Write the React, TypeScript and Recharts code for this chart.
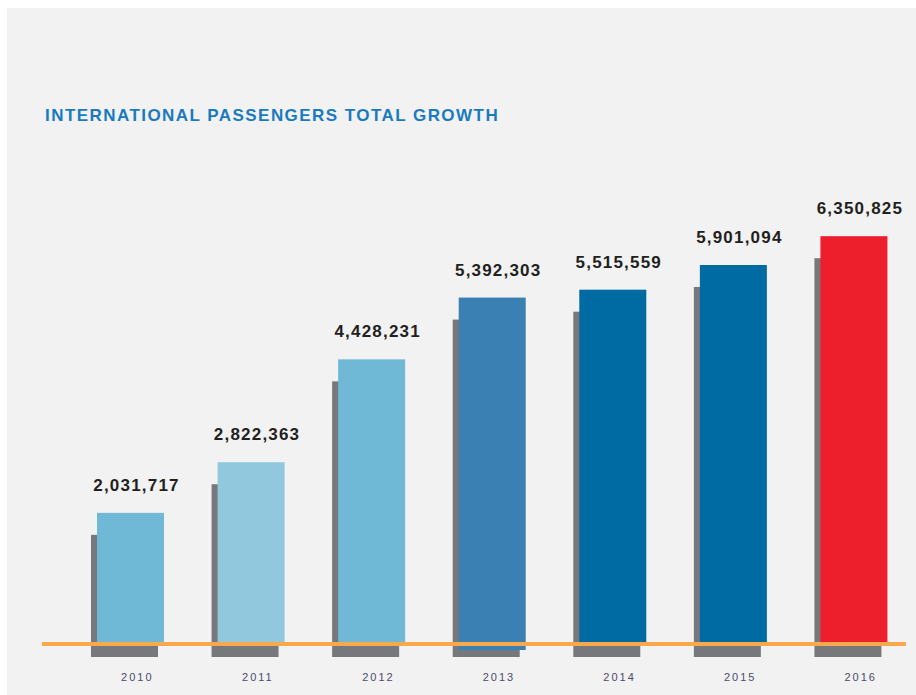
import React from "react"
import { BarChart, Bar, XAxis, YAxis, LabelList, Cell } from "recharts"

// data
const years = ["2010", "2011", "2012", "2013", "2014", "2015", "2016"]
const totals = [2031717, 2822363, 4428231, 5392303, 5515559, 5901094, 6350825]

const barColors = ["#6fb9d6", "#92c8de", "#6fb9d6", "#3a80b2", "#006aa3", "#006aa3", "#ee1f2d"]
const barDrop = [0, 0, 0, 7, 0, 0, 0]

const W = 916
const H = 695
const BASE = 643

const data = years.map((year, i) => ({ year, total: totals[i], idx: i }))

const fmt = (v: number) => v.toLocaleString("en-US")

function ShadowBar(props: any) {
  const { x, y, width, height, index } = props
  const drop = barDrop[index] || 0
  return (
    <g>
      <rect x={x - 6} y={y + 22} width={width} height={height - 22 + 14} fill="#77787b" />
      <rect x={x} y={y} width={width} height={height + drop} fill={barColors[index]} />
    </g>
  )
}

function ValueLabel(props: any) {
  const { x, y, width, value } = props
  return (
    <text
      x={x + width / 2 + 6}
      y={y - 22}
      textAnchor="middle"
      fontFamily="'Liberation Sans', Arial, sans-serif"
      fontWeight="bold"
      fontSize={17}
      letterSpacing={1.2}
      fill="#231f20"
    >
      {fmt(value)}
    </text>
  )
}

function YearTick(props: any) {
  const { x, payload } = props
  return (
    <text
      x={x + 7}
      y={681}
      textAnchor="middle"
      fontFamily="'Liberation Sans', Arial, sans-serif"
      fontSize={11}
      letterSpacing={2}
      fill="#4a4a6a"
    >
      {payload.value}
    </text>
  )
}

export default function App() {
  return (
    <div style={{ position: "absolute", left: 0, top: 0, width: W, height: H, background: "#ffffff", overflow: "hidden" }}>
      <div style={{ position: "absolute", left: 7, top: 8, width: W - 7, height: H - 8, background: "#f2f2f2" }} />
      <div
        style={{
          position: "absolute",
          left: 45,
          top: 106,
          fontFamily: "'Liberation Sans', Arial, sans-serif",
          fontWeight: "bold",
          fontSize: 17,
          letterSpacing: 1.45,
          color: "#1a7abf",
          whiteSpace: "nowrap",
        }}
      >
        INTERNATIONAL PASSENGERS TOTAL GROWTH
      </div>
      <div style={{ position: "absolute", left: 0, top: 0 }}>
        <BarChart width={W} height={H} data={data} margin={{ top: BASE - 442, right: 2, left: 70, bottom: 0 }}>
          <XAxis dataKey="year" height={H - BASE} axisLine={false} tickLine={false} tick={<YearTick />} interval={0} />
          <YAxis hide domain={[0, 6900000]} />
          <Bar dataKey="total" barSize={67} shape={<ShadowBar />} isAnimationActive={false}>
            {data.map((d, i) => (
              <Cell key={d.year} fill={barColors[i]} />
            ))}
            <LabelList dataKey="total" content={<ValueLabel />} />
          </Bar>
        </BarChart>
      </div>
      <div style={{ position: "absolute", left: 42, top: 642, width: 864, height: 4, background: "#f9a94b" }} />
    </div>
  )
}
